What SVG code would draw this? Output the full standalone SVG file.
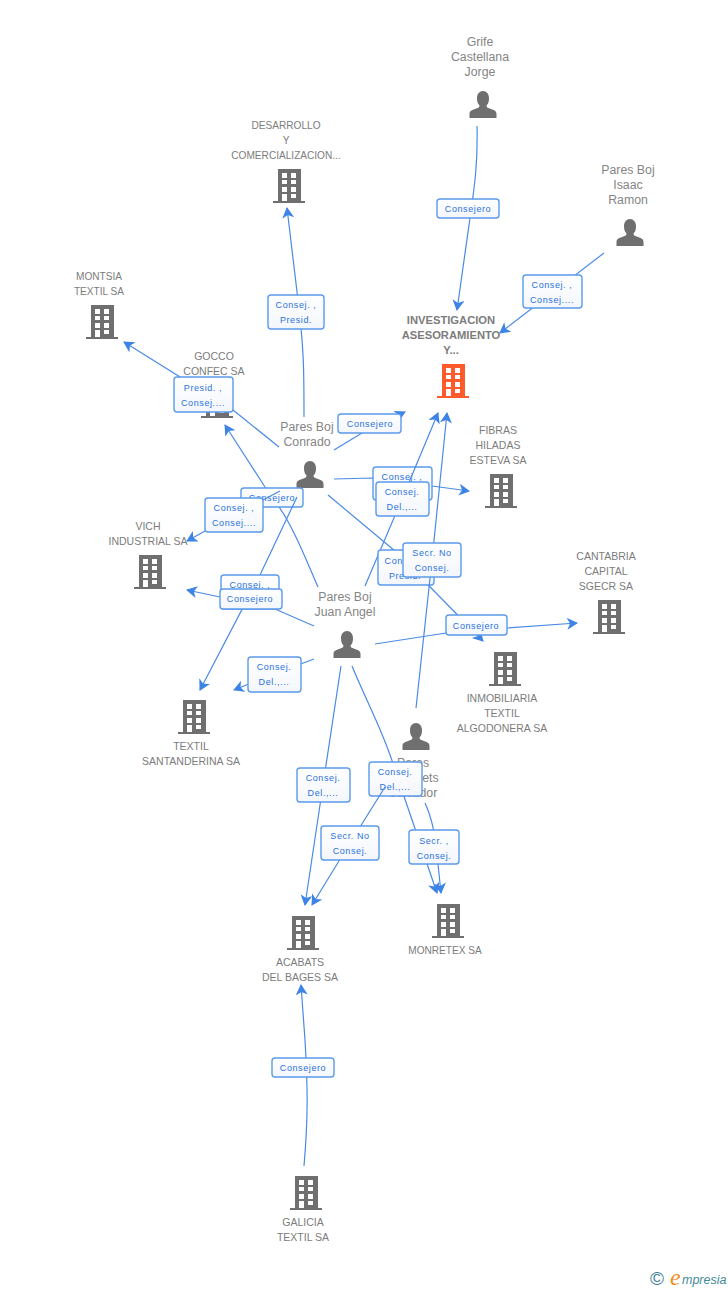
<svg xmlns="http://www.w3.org/2000/svg" width="728" height="1290" viewBox="0 0 728 1290">
<style>
text{font-family:"Liberation Sans",Arial,sans-serif}
.t{font-size:10.5px;fill:#7c7c7c;text-anchor:middle}
.s{font-size:10.1px}
.h{font-size:11.2px;font-weight:700}
.p{font-size:12.3px;fill:#858585;text-anchor:middle}
.b{font-size:9px;fill:#2a72dc;text-anchor:middle;letter-spacing:.6px}
.e{fill:none;stroke:#4a8ae6;stroke-width:1.2;marker-end:url(#a)}
.r{fill:url(#g);stroke:#5b9bea;stroke-width:1.4}
.w{fill:#fff}
</style>
<defs>
<linearGradient id="g" x1="0" y1="0" x2="0" y2="1"><stop offset="0" stop-color="#fff"/><stop offset="1" stop-color="#f3f6fb"/></linearGradient>
<marker id="a" markerUnits="userSpaceOnUse" markerWidth="14" markerHeight="14" refX="10" refY="6" orient="auto"><path d="M0 0L11 6L0 12L3 6Z" fill="#3d84e6"/></marker>
<g id="bd"><path fill="currentColor" d="M-11-17H12V15H16V17H-16V15H-11Z"/><path class="w" d="M-7-13h5v5h-5zM2-13h5v5h-5zM-7-6h5v4h-5zM2-6h5v4h-5zM-7 1h5v5h-5zM2 1h5v5h-5zM-7 8h5v7h-5zM2 8h5v4h-5z"/></g>
<path id="pr" fill="#6f6f6f" d="M-13.500 13V9C-13.500 6-11 5-8 4C-5 3-3.500 2.500-3.500 .5C-5.500-1.500-6-4-6-7C-6-11-3.500-14 0-14S6-11 6-7C6-4 5.500-1.500 3.500 .5C3.500 2.500 5 3 8 4C11 5 13.500 6 13.500 9V13Z"/>
</defs>
<rect width="728" height="1290" fill="#fff"/>
<g id="node-grife"><text class="p" x="480" y="46">Grife</text><text class="p" x="480" y="61">Castellana</text><text class="p" x="480" y="76">Jorge</text><use href="#pr" x="483" y="105"/></g>
<g id="node-isaac"><text class="p" x="628" y="174">Pares Boj</text><text class="p" x="628" y="189">Isaac</text><text class="p" x="628" y="204">Ramon</text><use href="#pr" x="630" y="233"/></g>
<g id="node-desarrollo" color="#6f6f6f"><text class="t s" x="286" y="129">DESARROLLO</text><text class="t s" x="286" y="144">Y</text><text class="t s" x="286" y="159">COMERCIALIZACION...</text><use href="#bd" x="289" y="186"/></g>
<g id="node-montsia" color="#6f6f6f"><text class="t s" x="99" y="280">MONTSIA</text><text class="t s" x="99" y="295">TEXTIL SA</text><use href="#bd" x="102" y="322"/></g>
<g id="node-investigacion" color="#ff5a2b"><text class="t h" x="451" y="324">INVESTIGACION</text><text class="t h" x="451" y="339">ASESORAMIENTO</text><text class="t h" x="451" y="354">Y...</text><use href="#bd" x="453" y="381"/></g>
<g id="node-fibras" color="#6f6f6f"><text class="t" x="498" y="434">FIBRAS</text><text class="t" x="498" y="449">HILADAS</text><text class="t" x="498" y="464">ESTEVA SA</text><use href="#bd" x="501" y="491"/></g>
<g id="node-cantabria" color="#6f6f6f"><text class="t" x="606" y="560">CANTABRIA</text><text class="t" x="606" y="575">CAPITAL</text><text class="t" x="606" y="590">SGECR SA</text><use href="#bd" x="609" y="617"/></g>
<g id="node-inmobiliaria" color="#6f6f6f"><use href="#bd" x="505" y="669"/><text class="t" x="502" y="702">INMOBILIARIA</text><text class="t" x="502" y="717">TEXTIL</text><text class="t" x="502" y="732">ALGODONERA SA</text></g>
<g id="node-vich" color="#6f6f6f"><text class="t" x="148" y="530">VICH</text><text class="t" x="148" y="545">INDUSTRIAL SA</text><use href="#bd" x="150" y="572"/></g>
<g id="node-textil" color="#6f6f6f"><use href="#bd" x="194" y="717"/><text class="t" x="191" y="750">TEXTIL</text><text class="t" x="191" y="765">SANTANDERINA SA</text></g>
<g id="node-monretex" color="#6f6f6f"><use href="#bd" x="448" y="921"/><text class="t s" x="445" y="954">MONRETEX SA</text></g>
<g id="node-acabats" color="#6f6f6f"><use href="#bd" x="303" y="933"/><text class="t" x="300" y="966">ACABATS</text><text class="t" x="300" y="981">DEL BAGES SA</text></g>
<g id="node-galicia" color="#6f6f6f"><use href="#bd" x="306" y="1193"/><text class="t" x="303" y="1226">GALICIA</text><text class="t" x="303" y="1241">TEXTIL SA</text></g>
<g id="node-conrado"><text class="p" x="307" y="431">Pares Boj</text><text class="p" x="307" y="446">Conrado</text><use href="#pr" x="310" y="475"/></g>
<g id="node-juan"><text class="p" x="345" y="601">Pares Boj</text><text class="p" x="345" y="616">Juan Angel</text><use href="#pr" x="347" y="645"/></g>
<g id="node-busquets"><use href="#pr" x="416" y="737"/><text class="p" x="413" y="767">Pares</text><text class="p" x="413" y="782">Busquets</text><text class="p" x="413" y="797">Salvador</text></g>
<g id="node-gocco" color="#6f6f6f"><text class="t" x="214" y="360">GOCCO</text><text class="t" x="214" y="375">CONFEC SA</text><use href="#bd" x="217" y="401"/></g>
<g id="connectors">
<path class="e" d="M477 126C478 165 474 190 470 218L457 310"/>
<rect class="r" x="437" y="199" width="62" height="19" rx="3"/><text class="b" x="468" y="212">Consejero</text>
<path class="e" d="M604 253L500 333"/>
<rect class="r" x="523" y="275" width="59" height="33" rx="3"/><text class="b" x="552" y="288">Consej. ,</text><text class="b" x="552" y="303">Consej....</text>
<path class="e" d="M304 417C304 370 304 350 298 300L287 208"/>
<rect class="r" x="268" y="295" width="56" height="34" rx="3"/><text class="b" x="296" y="308">Consej. ,</text><text class="b" x="296" y="323">Presid.</text>
<path class="e" d="M279 447L233 410L124 342"/>
<rect class="r" x="174" y="377" width="59" height="35" rx="3"/><text class="b" x="203" y="391">Presid. ,</text><text class="b" x="203" y="406">Consej....</text>
<path class="e" d="M334 450L362 433L405 412"/>
<rect class="r" x="338" y="414" width="63" height="19" rx="3"/><text class="b" x="370" y="427">Consejero</text>
<path class="e" d="M318 587C305 557 292 525 279 507L265 487L225 425"/>
<rect class="r" x="241" y="488" width="62" height="19" rx="3"/><text class="b" x="272" y="501">Consejero</text>
<path class="e" d="M280 491L234 515L187 541"/>
<rect class="r" x="205" y="498" width="58" height="34" rx="3"/><text class="b" x="234" y="511">Consej. ,</text><text class="b" x="234" y="526">Consej....</text>
<path class="e" d="M297 497L260 575L200 690"/>
<rect class="r" x="221" y="575" width="58" height="34" rx="3"/><text class="b" x="250" y="588">Consej. ,</text>
<path class="e" d="M314 626L275 609L220 597L187 590"/>
<rect class="r" x="220" y="589" width="62" height="20" rx="3"/><text class="b" x="250" y="602">Consejero</text>
<path class="e" d="M334 479L373 478L432 486L469 491"/>
<rect class="r" x="373" y="467" width="59" height="33" rx="3"/><text class="b" x="402" y="480">Consej. ,</text>
<path class="e" d="M365 586L402 499L438 413"/>
<rect class="r" x="376" y="482" width="53" height="34" rx="3"/><text class="b" x="402" y="495">Consej.</text><text class="b" x="402" y="510">Del.,...</text>
<path class="e" d="M328 495L395 551L483 641"/>
<rect class="r" x="378" y="550" width="56" height="35" rx="3"/><text class="b" x="405" y="564">Consej. ,</text><text class="b" x="405" y="579">Presid.</text>
<path class="e" d="M416 708L432 560L447 413"/>
<rect class="r" x="403" y="543" width="58" height="34" rx="3"/><text class="b" x="432" y="556">Secr.  No</text><text class="b" x="432" y="571">Consej.</text>
<path class="e" d="M375 644L446 633L507 628L577 623"/>
<rect class="r" x="446" y="615" width="61" height="20" rx="3"/><text class="b" x="476" y="629">Consejero</text>
<path class="e" d="M314 659L274 674L234 690"/>
<rect class="r" x="248" y="657" width="53" height="35" rx="3"/><text class="b" x="274" y="670">Consej.</text><text class="b" x="274" y="685">Del.,...</text>
<path class="e" d="M341 666L323 785L305 905"/>
<rect class="r" x="297" y="768" width="53" height="34" rx="3"/><text class="b" x="323" y="781">Consej.</text><text class="b" x="323" y="796">Del.,...</text>
<path class="e" d="M352 666C368 705 385 735 395 770L437 893"/>
<rect class="r" x="369" y="762" width="53" height="34" rx="3"/><text class="b" x="395" y="775">Consej.</text><text class="b" x="395" y="790">Del.,...</text>
<path class="e" d="M385 787L350 843L312 905"/>
<rect class="r" x="321" y="826" width="58" height="34" rx="3"/><text class="b" x="350" y="839">Secr.  No</text><text class="b" x="350" y="854">Consej.</text>
<path class="e" d="M425 803C432 818 436 835 438 864L441 893"/>
<rect class="r" x="409" y="830" width="50" height="34" rx="3"/><text class="b" x="434" y="844">Secr. ,</text><text class="b" x="434" y="859">Consej.</text>
<path class="e" d="M304 1166C308 1120 308 1090 305 1040L301 985"/>
<rect class="r" x="272" y="1058" width="62" height="19" rx="3"/><text class="b" x="303" y="1071">Consejero</text>
</g>
<g id="logo"><text x="650" y="1285" font-size="19" fill="#3f7f9a">©</text><text x="670" y="1285" font-size="24" font-style="italic" fill="#f28a1e" style="font-family:'Liberation Serif',serif">e</text><text x="682" y="1284" font-size="12.500" font-style="italic" fill="#3f8a9a">mpresia</text></g>
</svg>
